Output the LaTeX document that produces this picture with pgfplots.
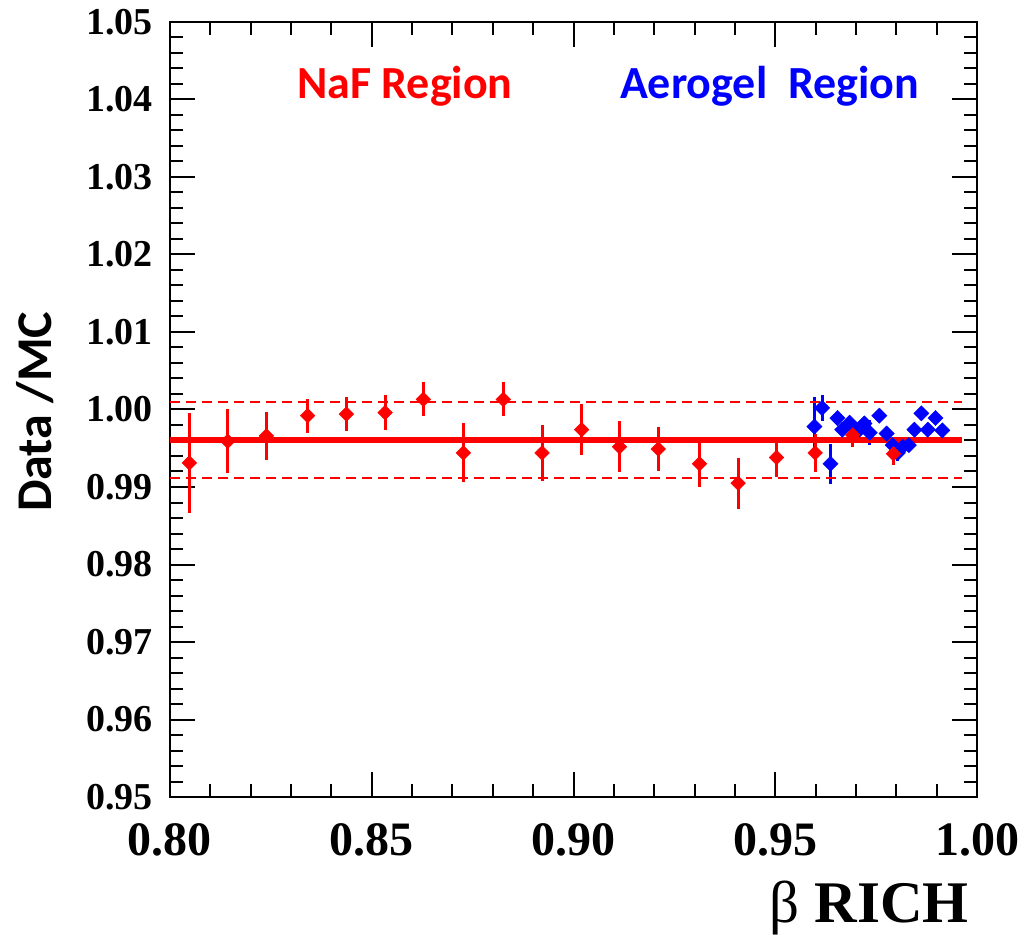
\documentclass[border=0pt]{standalone}
\usepackage{fontspec}
\setmainfont{Liberation Serif}
\newfontfamily\carlito{Carlito}
\usepackage{pgfplots}
\pgfplotsset{compat=1.18}
\usepackage{pgfplotstable}

\pgfplotstableread{
x y e
0.8048 0.9931 0.0064
0.8143 0.9959 0.0041
0.8239 0.9966 0.0031
0.8341 0.9992 0.0022
0.8437 0.9994 0.0022
0.8533 0.9996 0.0023
0.8628 1.0013 0.0022
0.8727 0.9944 0.0038
0.8826 1.0013 0.0022
0.8922 0.9944 0.0036
0.9020 0.9974 0.0033
0.9114 0.9952 0.0033
0.9210 0.9949 0.0029
0.9312 0.9930 0.0030
0.9408 0.9905 0.0033
0.9503 0.9938 0.0025
0.9599 0.9944 0.0025
0.9692 0.9967 0.0016
0.9793 0.9943 0.0015
}\naf

\pgfplotstableread{
x y e
0.9597 0.9978 0.0038
0.9616 1.0002 0.0017
0.9637 0.9930 0.0026
0.9654 0.9989 0.0008
0.9666 0.9974 0.0008
0.9684 0.9983 0.0008
0.9692 0.9977 0.0008
0.9709 0.9974 0.0008
0.9721 0.9982 0.0008
0.9734 0.9970 0.0016
0.9758 0.9992 0.0008
0.9776 0.9969 0.0008
0.9791 0.9954 0.0008
0.9804 0.9944 0.0010
0.9816 0.9952 0.0008
0.9831 0.9954 0.0008
0.9845 0.9974 0.0008
0.9862 0.9995 0.0008
0.9878 0.9974 0.0008
0.9897 0.9989 0.0008
0.9914 0.9973 0.0008
}\aero

\begin{document}
\begin{tikzpicture}
\begin{axis}[
  scale only axis, width=807pt, height=775pt,
  xmin=0.80, xmax=1.00, ymin=0.95, ymax=1.05,
  xtick={0.80,0.85,0.90,0.95,1.00}, minor x tick num=4,
  ytick={0.95,0.96,0.97,0.98,0.99,1.00,1.01,1.02,1.03,1.04,1.05}, minor y tick num=4,
  tick align=inside,
  major tick length=25pt, minor tick length=13pt,
  axis line style={line width=2pt},
  every tick/.append style={line width=2pt, black},
  /pgf/number format/.cd, fixed, fixed zerofill, precision=2, assume math mode=true,
  /pgfplots/.cd,
  xticklabel style={font=\fontsize{48}{50}\selectfont\bfseries, inner sep=0pt, yshift=-26pt},
  yticklabel style={font=\fontsize{38}{40}\selectfont\bfseries, inner sep=0pt, xshift=-17pt},
  xlabel={{\mdseries β} \bfseries RICH},
  xlabel style={font=\fontsize{59}{61}\selectfont, at={(axis description cs:0.99,0)}, anchor=base east, yshift=-125pt, inner sep=0pt},
  ylabel={\carlito\bfseries Data /MC},
  ylabel style={font=\fontsize{50}{52}\selectfont, at={(axis description cs:-0.167,0.497)}, anchor=center, inner sep=0pt},
  clip=false,
]
\addplot[blue, only marks, mark=square*, mark size=5.4pt,
  mark options={rotate=45, fill=blue, draw=blue},
  error bars/.cd, y dir=both, y explicit,
  error mark=none, error bar style={line width=3pt, blue}]
  table[x=x, y=y, y error=e] {\aero};
\addplot[red, only marks, mark=square*, mark size=5.2pt,
  mark options={rotate=45, fill=red, draw=red},
  error bars/.cd, y dir=both, y explicit,
  error mark=none, error bar style={line width=3pt, red}]
  table[x=x, y=y, y error=e] {\naf};
\addplot[red, line width=6pt, no marks] coordinates {(0.80,0.9961) (0.9962,0.9961)};
\addplot[red, line width=2pt, no marks, dash pattern=on 10pt off 6pt] coordinates {(0.80,1.0010) (0.9962,1.0010)};
\addplot[red, line width=2pt, no marks, dash pattern=on 10pt off 6pt] coordinates {(0.80,0.9911) (0.9962,0.9911)};
\node[red, font=\fontsize{46}{48}\selectfont\carlito\bfseries, anchor=center] at (axis description cs:0.291,0.917) {NaF Region};
\node[blue, font=\fontsize{46}{48}\selectfont\carlito\bfseries, anchor=center] at (axis description cs:0.743,0.917) {Aerogel\ \ Region};
\end{axis}
\pgfresetboundingbox
\path ([shift={(-170pt,-137pt)}]current axis.south west) rectangle ([shift={(57pt,22pt)}]current axis.north east);
\end{tikzpicture}
\end{document}
